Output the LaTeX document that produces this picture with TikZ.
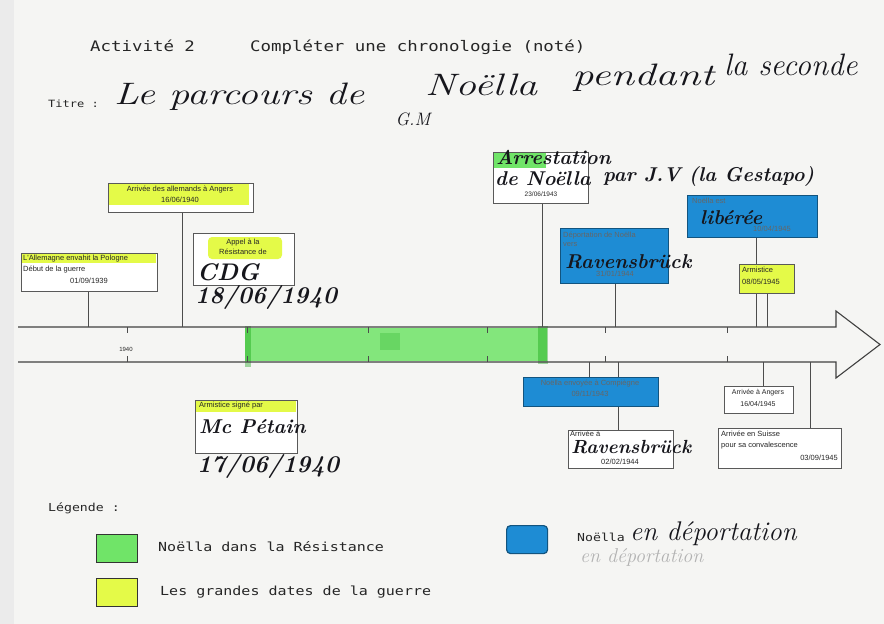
\documentclass[tikz,border=0pt]{standalone}
\usepackage{fontspec}
\usepackage{graphicx}
\newfontfamily\arialf{Liberation Sans}
\newfontfamily\monof[FakeStretch=1.2]{DejaVu Sans Mono}
\definecolor{paper}{RGB}{245,245,243}
\definecolor{hlyellow}{RGB}{228,250,72}
\definecolor{hlgreen}{RGB}{112,228,104}
\definecolor{hlblue}{RGB}{30,140,212}
\definecolor{ink}{RGB}{22,22,28}
\begin{document}
\begin{tikzpicture}[x=1pt,y=-1pt,
  tbox/.style={draw=black!65, line width=0.9pt, fill=white, inner sep=0pt, anchor=north west},
  bbox/.style={draw=hlblue!60!black, line width=0.9pt, fill=hlblue, inner sep=0pt, anchor=north west},
  small/.style={font=\arialf\fontsize{7.5}{9}\selectfont, text=black!85, inner sep=0pt},
  hand/.style={font=\bfseries\itshape\fontsize{20}{22}\selectfont, text=ink, inner sep=0pt},
  handbig/.style={font=\bfseries\itshape\fontsize{24}{26}\selectfont, text=ink, inner sep=0pt},
  pen/.style={font=\itshape\fontsize{31}{33}\selectfont, text=ink, inner sep=0pt, anchor=base west},
  typed/.style={font=\monof\fontsize{14.5}{16}\selectfont, text=black!85, inner sep=0pt},
  typedsm/.style={font=\monof\fontsize{12.5}{14}\selectfont, text=black!85, inner sep=0pt},
  conn/.style={draw=black!70, line width=0.8pt},
  tick/.style={draw=black!70, line width=0.7pt},
  legsq/.style={draw=black!80, line width=1.2pt, minimum width=41pt, minimum height=28pt, inner sep=0pt, anchor=north west}
]
\useasboundingbox (0,0) rectangle (884,624);
\fill[paper] (0,0) rectangle (884,624);
\fill[black!8] (0,0) rectangle (14,624);

% ---------- header ----------
\node[typed, anchor=base west] (act) at (90,51) {Activité 2};
\node[typed, anchor=base west] (cpl) at (250,51) {Compléter une chronologie (noté)};
\node[font=\monof\fontsize{10}{12}\selectfont, text=black!85, anchor=base west, inner sep=0pt] (tit) at (48,107) {Titre :};
\node[pen] (ht1) at (114,104) {\resizebox{250pt}{\height}{Le parcours de}};
\node[pen] (ht2) at (425,95) {\resizebox{112pt}{\height}{Noëlla}};
\node[pen] (ht3) at (572,85) {\resizebox{142pt}{\height}{pendant}};
\node[pen] (ht4) at (724,75) {la seconde};
\node[font=\itshape\fontsize{18}{20}\selectfont, text=ink, inner sep=0pt] (gm) at (413,119) {G.M};

% ---------- timeline ----------
\fill[hlgreen, opacity=0.85] (245,328) rectangle (547,361);
\fill[green!60!black, opacity=0.35] (245,326) rectangle (251,367);
\fill[green!60!black, opacity=0.35] (538,326) rectangle (548,364);
\fill[green!60!black, opacity=0.2] (380,333) rectangle (400,350);
\draw[line width=1.1pt, black!75, line join=miter]
  (18,327) -- (836,327) -- (836,311) -- (880,344.5) -- (836,378) -- (836,362) -- (18,362);
\foreach \t in {127,247,368,487,605,727} {
  \draw[tick] (\t,327) -- (\t,333);
  \draw[tick] (\t,356) -- (\t,362);
}
\node[small, font=\arialf\fontsize{6}{7}\selectfont] (y1940) at (126,349) {1940};

% timeline anchor points
\coordinate (tA) at (88,327);
\coordinate (tB) at (182,327);
\coordinate (tD) at (542,327);
\coordinate (tE) at (615,327);
\coordinate (tF) at (756,327);
\coordinate (tG) at (767,327);
\coordinate (tI) at (589,362);
\coordinate (tJ) at (618,362);
\coordinate (tK) at (763,362);
\coordinate (tL) at (810,362);

% ---------- boxes above ----------
% A
\node[tbox, minimum width=136pt, minimum height=38pt] (pol) at (21,253) {};
\draw[conn] (tA |- pol.south) -- (tA);
\fill[hlyellow] (22,254) rectangle (156,263);
\node[small, anchor=north west] (polt1) at (23,255) {L'Allemagne envahit la Pologne};
\node[small, anchor=north west] (polt2) at (23,266) {Début de la guerre};
\node[small, anchor=north] (polt3) at (89,278) {01/09/1939};

% B
\node[tbox, minimum width=145pt, minimum height=29pt] (ang) at (108,183) {};
\draw[conn] (tB |- ang.south) -- (tB);
\fill[hlyellow] (109,184) rectangle (249,205);
\node[small, anchor=north] (angt1) at (180,186) {Arrivée des allemands à Angers};
\node[small, anchor=north] (angt2) at (180,197) {16/06/1940};

% C
\node[tbox, minimum width=101pt, minimum height=52pt] (cdg) at (193,233) {};
\fill[hlyellow, rounded corners=4pt] (208,237) rectangle (282,259);
\node[small, anchor=north] (cdgt1) at (243,239) {Appel à la};
\node[small, anchor=north] (cdgt2) at (243,249) {Résistance de};
\node[handbig, anchor=base west] (cdgh1) at (197,280) {CDG};
\node[handbig, anchor=base west] (cdgh2) at (195,303) {18/06/1940};

% D
\node[tbox, minimum width=95pt, minimum height=51pt] (arr) at (493,152) {};
\draw[conn] (tD |- arr.south) -- (tD);
\fill[hlgreen] (494,153) rectangle (546,168);
\node[small, font=\arialf\fontsize{6.5}{8}\selectfont, anchor=north] (arrt) at (541,192) {23/06/1943};
\node[hand, anchor=base west] (arrh1) at (496,164) {Arrestation};
\node[hand, anchor=base west] (arrh2) at (495,185) {de Noëlla};
\node[hand, anchor=base west] (arrh3) at (603,181) {par J.V (la Gestapo)};

% E
\node[bbox, minimum width=108pt, minimum height=55pt] (dep) at (560,228) {};
\draw[conn] (tE |- dep.south) -- (tE);
\node[small, anchor=north west, text=black!60] (dept1) at (563,232) {Déportation de Noëlla};
\node[small, anchor=north west, text=black!60] (dept2) at (563,242) {vers};
\node[hand, anchor=base west] (deph) at (565,268) {Ravensbrück};
\node[small, anchor=north, text=black!60] (dept3) at (615,271) {31/01/1944};

% F
\node[bbox, minimum width=130pt, minimum height=42pt] (lib) at (687,195) {};
\draw[conn] (tF |- lib.south) -- (tF);
\node[small, anchor=north west, text=black!60] (libt1) at (692,198) {Noëlla est};
\node[hand, anchor=base west] (libh) at (700,224) {libérée};
\node[small, anchor=north, text=black!60] (libt2) at (772,226) {10/04/1945};

% G
\node[tbox, fill=hlyellow, minimum width=55pt, minimum height=29pt] (arm) at (739,264) {};
\draw[conn] (tG |- arm.south) -- (tG);
\node[small, anchor=north west] (armt1) at (742,267) {Armistice};
\node[small, anchor=north west] (armt2) at (742,279) {08/05/1945};

% ---------- boxes below ----------
% H
\node[tbox, minimum width=102pt, minimum height=53pt] (pet) at (195,400) {};
\fill[hlyellow] (196,401) rectangle (296,412);
\node[small, anchor=north west] (pett) at (199,402) {Armistice signé par};
\node[hand, anchor=base west] (peth1) at (199,433) {Mc Pétain};
\node[handbig, anchor=base west] (peth2) at (197,472) {17/06/1940};

% J (drawn before I)
\draw[conn] (tJ) -- (tJ |- 0,430);
\node[tbox, minimum width=105pt, minimum height=38pt] (rav) at (568,430) {};
\node[small, anchor=north west] (ravt1) at (570,431) {Arrivée à};
\node[hand, font=\bfseries\itshape\fontsize{19}{21}\selectfont, anchor=base west] (ravh) at (571,453) {Ravensbrück};
\node[small, anchor=north] (ravt2) at (620,459) {02/02/1944};

% I
\node[bbox, minimum width=135pt, minimum height=29pt] (comp) at (523,377) {};
\draw[conn] (tI) -- (tI |- comp.north);
\node[small, anchor=north, text=black!60] (compt1) at (590,380) {Noëlla envoyée à Compiègne};
\node[small, anchor=north, text=black!60] (compt2) at (590,391) {09/11/1943};

% K
\node[tbox, minimum width=69pt, minimum height=27pt] (ang2) at (724,386) {};
\draw[conn] (tK) -- (tK |- ang2.north);
\node[small, font=\arialf\fontsize{7}{8}\selectfont, anchor=north] (ang2t1) at (758,389) {Arrivée à Angers};
\node[small, font=\arialf\fontsize{7}{8}\selectfont, anchor=north] (ang2t2) at (758,401) {16/04/1945};

% L
\node[tbox, minimum width=123pt, minimum height=40pt] (sui) at (718,428) {};
\draw[conn] (tL) -- (tL |- sui.north);
\node[small, anchor=north west] (suit1) at (721,431) {Arrivée en Suisse};
\node[small, anchor=north west] (suit2) at (721,442) {pour sa convalescence};
\node[small, anchor=north east] (suit3) at (838,455) {03/09/1945};

% ---------- legend ----------
\node[font=\monof\fontsize{11}{13}\selectfont, text=black!85, anchor=base west, inner sep=0pt] (leg) at (48,511) {Légende :};
\node[legsq, fill=hlgreen] (lgg) at (96,534) {};
\node[typedsm, anchor=west] (lggt) at (158,547) {Noëlla dans la Résistance};
\node[legsq, fill=hlyellow] (lgy) at (96,578) {};
\node[typedsm, anchor=west] (lgyt) at (160,592) {Les grandes dates de la guerre};
\node[legsq, fill=hlblue, draw=hlblue!60!black, rounded corners=4pt] (lgb) at (506,525) {};
\node[font=\monof\fontsize{11}{13}\selectfont, text=black!85, anchor=base west, inner sep=0pt] (lgbt) at (577,541) {Noëlla};
\node[font=\itshape\fontsize{27}{29}\selectfont, text=ink, anchor=base west, inner sep=0pt] (lgbh) at (630,540) {en déportation};
\node[font=\itshape\fontsize{20}{22}\selectfont, text=black!30, anchor=base west, inner sep=0pt] (lgbf) at (580,562) {en déportation};
\end{tikzpicture}
\end{document}
